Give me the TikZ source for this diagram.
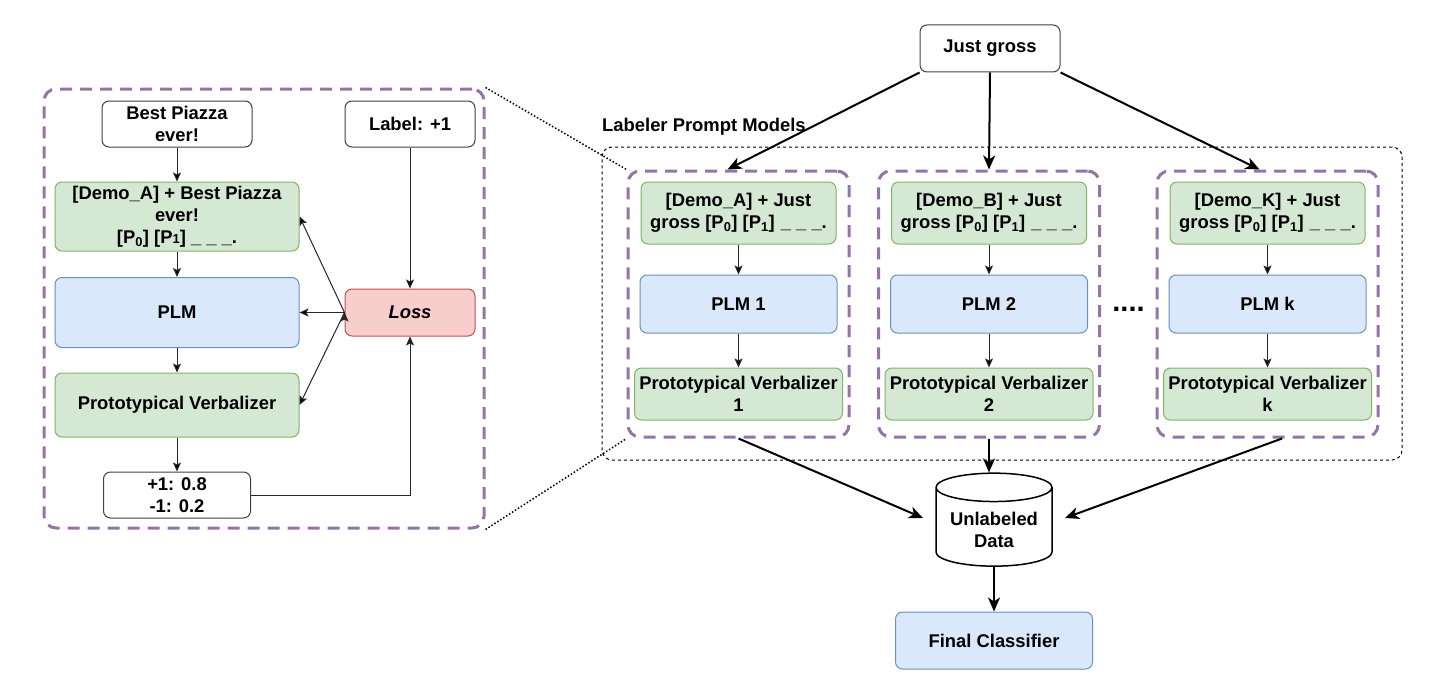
\documentclass[tikz,border=0pt]{standalone}
\usepackage{fontspec}
\setmainfont{Liberation Sans}
\usetikzlibrary{positioning,shapes.geometric,arrows.meta}

\definecolor{greenfill}{HTML}{D5E8D4}
\definecolor{greenline}{HTML}{82B366}
\definecolor{bluefill}{HTML}{DAE8FC}
\definecolor{blueline}{HTML}{6C8EBF}
\definecolor{redfill}{HTML}{F8CECC}
\definecolor{redline}{HTML}{B85450}
\definecolor{purpleline}{HTML}{9673A6}

\begin{document}
\begin{tikzpicture}[x=1pt,y=-1pt,
        box/.style={rectangle, rounded corners=7pt, draw=black!75, line width=1pt, align=center, inner sep=2pt, font=\bfseries\fontsize{18.4pt}{22pt}\selectfont},
        greenbox/.style={box, fill=greenfill, draw=greenline},
        bluebox/.style={box, fill=bluefill, draw=blueline},
        redbox/.style={box, fill=redfill, draw=redline},
        groupbox/.style={rectangle, draw=purpleline, line width=3pt, dash pattern=on 12pt off 8pt, rounded corners=12pt},
        thinarrow/.style={->, >={Stealth[length=9pt,width=8pt,inset=2pt]}, line width=1pt, draw=black!85},
        thickarrow/.style={->, >={Stealth[length=14pt,width=12pt,inset=4pt]}, line width=2pt},
        dottedlink/.style={line width=1.5pt, dash pattern=on 1.5pt off 2pt},
    ]
                        \useasboundingbox (0,0) rectangle (1448,693);

                        % left: training one prompt model
                        \node [box, minimum width=150pt, minimum height=46pt](best) at (177,124) {Best Piazza\\ever!};
                        \node [greenbox, minimum width=244pt, minimum height=69pt](prompt) [below of = best, node distance=92.5pt]{[Demo\_A] + Best Piazza\\ever!\\ {[}P\textsubscript{0}] [P{\fontsize{13pt}{13pt}\selectfont 1}] \_ \_ \_.};
                        \node [bluebox, minimum width=244pt, minimum height=70pt](plm) [below of = prompt, node distance=96pt]{PLM};
                        \node [greenbox, minimum width=244pt, minimum height=64pt](verb) [below of = plm, node distance=92.5pt]{Prototypical Verbalizer};
                        \node [box, minimum width=147pt, minimum height=46pt](out) [below of = verb, node distance=90pt]{+1: 0.8\\-1: 0.2};
                        \node [box, minimum width=130pt, minimum height=46pt](label) [right of = best, node distance=233pt]{Label: +1};
                        \node [redbox, minimum width=130pt, minimum height=47pt](loss) [below of = label, node distance=188.5pt]{\textit{Loss}};
                        \node [groupbox, minimum width=440pt, minimum height=439pt](leftgroup) at (264,308.5){};

                        \path[thinarrow]
                            (best) edge (prompt)
                            (prompt) edge (plm)
                            (plm) edge (verb)
                            (verb) edge (out)
                            (label) edge (loss)
                            (loss.west) edge (prompt.east)
                            (loss.west) edge (plm.east)
                            (loss.west) edge (verb.east)
                        ;
                        \draw[thinarrow] (out.east) -| (loss.south);

                        % right: labeler prompt models
                        \node [box, minimum width=140pt, minimum height=47pt](just) at (990,48.5){Just gross};
                        \node [draw, line width=1pt, dash pattern=on 3pt off 3pt, rounded corners=10pt, minimum width=800pt, minimum height=313pt](labelers) at (1002,303.5){};
                        \node [anchor=west, inner sep=0pt, font=\bfseries\fontsize{18.4pt}{22pt}\selectfont](labelerstitle) at (602,127){Labeler Prompt Models};

                        \node [greenbox, minimum width=195pt, minimum height=62pt](promptA) at (738.5,213){[Demo\_A] + Just\\gross [P\textsubscript{0}] [P\textsubscript{1}]\hspace{6pt}\_ \_ \_.};
                        \node [bluebox, minimum width=197pt, minimum height=58pt](plmA) [below of = promptA, node distance=91pt]{PLM 1};
                        \node [greenbox, minimum width=208pt, minimum height=52pt](verbA) [below of = plmA, node distance=90pt]{Prototypical Verbalizer\\1};
                        \node [groupbox, minimum width=221pt, minimum height=266pt](groupA) at (plmA){};

                        \node [greenbox, minimum width=195pt, minimum height=62pt](promptB) [right of = promptA, node distance=250.5pt]{[Demo\_B] + Just\\gross [P\textsubscript{0}] [P\textsubscript{1}]\hspace{6pt}\_ \_ \_.};
                        \node [bluebox, minimum width=197pt, minimum height=58pt](plmB) [below of = promptB, node distance=91pt]{PLM 2};
                        \node [greenbox, minimum width=208pt, minimum height=52pt](verbB) [below of = plmB, node distance=90pt]{Prototypical Verbalizer\\2};
                        \node [groupbox, minimum width=221pt, minimum height=266pt](groupB) at (plmB){};

                        \node [greenbox, minimum width=195pt, minimum height=62pt](promptK) [right of = promptB, node distance=278.5pt]{[Demo\_K] + Just\\gross [P\textsubscript{0}] [P\textsubscript{1}]\hspace{6pt}\_ \_ \_.};
                        \node [bluebox, minimum width=197pt, minimum height=58pt](plmK) [below of = promptK, node distance=91pt]{PLM k};
                        \node [greenbox, minimum width=208pt, minimum height=52pt](verbK) [below of = plmK, node distance=90pt]{Prototypical Verbalizer\\k};
                        \node [groupbox, minimum width=221pt, minimum height=266pt](groupK) at (plmK){};

                        \node [anchor=base, font=\bfseries\fontsize{29pt}{29pt}\selectfont, inner sep=0pt](dots) at (1128.5,311.5){....};

                        \node [cylinder, shape border rotate=90, aspect=0.3, draw, line width=1.5pt, align=center, minimum width=116pt, minimum height=93pt, font=\bfseries\fontsize{18.4pt}{22pt}\selectfont](db) at (994,529.5){Unlabeled\\Data};
                        \node [bluebox, minimum width=197pt, minimum height=57pt](final) [below of = db, node distance=111pt]{Final Classifier};
                        \coordinate (dbinA) at (923,518);
                        \coordinate (dbinK) at (1065,518);

                        \path[thinarrow]
                            (promptA) edge (plmA)
                            (plmA) edge (verbA)
                            (promptB) edge (plmB)
                            (plmB) edge (verbB)
                            (promptK) edge (plmK)
                            (plmK) edge (verbK)
                        ;

                        \path[thickarrow]
                            (just.south west) edge ([xshift=-11pt]groupA.north)
                            (just.south) edge (groupB.north)
                            (just.south east) edge ([xshift=-8pt]groupK.north)
                            (groupA.south) edge (dbinA)
                            (groupB.south) edge (groupB.south |- db.north)
                            ([xshift=14.5pt]groupK.south) edge (dbinK)
                            (db) edge (final)
                        ;

                        \draw[dottedlink] (leftgroup.north east) -- (groupA.north west);
                        \draw[dottedlink] (leftgroup.south east) -- (groupA.south west);

                    \end{tikzpicture}
\end{document}
